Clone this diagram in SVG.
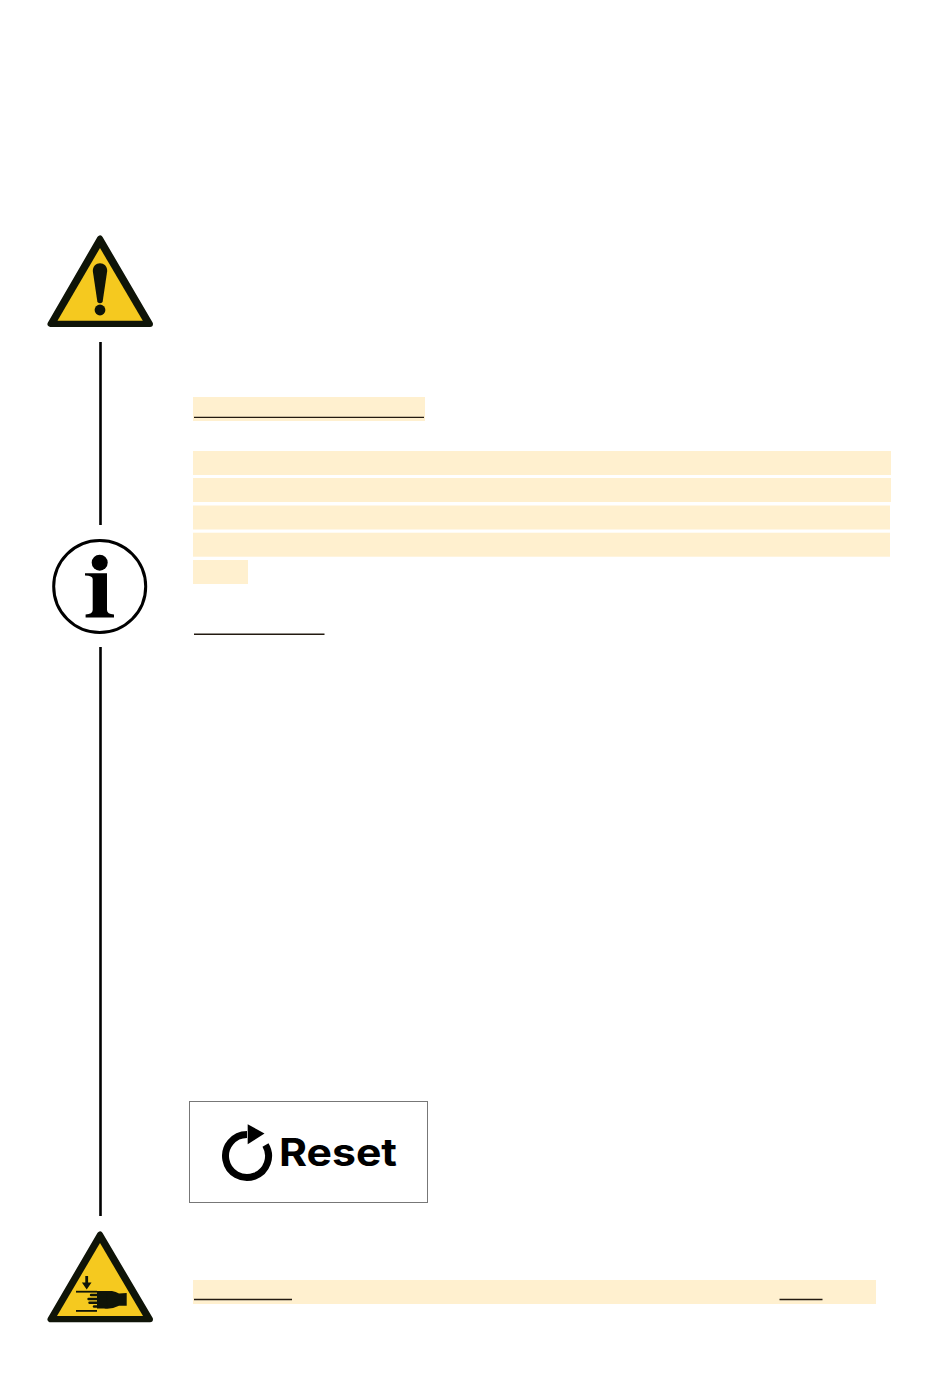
<svg xmlns="http://www.w3.org/2000/svg" width="950" height="1395" viewBox="0 0 950 1395">
<style>
.hl{fill:#fff0cf}
.ul{stroke:#231a10;stroke-width:1.4;fill:none}
.rail{stroke:#000;stroke-width:2.6;fill:none}
.tri{fill:#0f1408;stroke:#0f1408;stroke-width:6;stroke-linejoin:round}
.yel{fill:#f5c91f}
.ink{fill:#0f1408}
.fin{stroke:#0f1408;stroke-width:2.4;stroke-linecap:round;fill:none}
</style>
<rect width="950" height="1395" fill="#fff"/>
<g id="connectors">
<line class="rail" x1="100.5" y1="342" x2="100.5" y2="525"/>
<line class="rail" x1="100.5" y1="647" x2="100.5" y2="1216"/>
</g>
<g id="warning-sign">
<polygon class="tri" points="100,238.5 50.5,324 150,324"/>
<polygon class="yel" points="100,248 57.5,320.8 142.8,320.8"/>
<path class="ink" d="M92.8,271 C92.8,266 96,263.2 100,263.2 C104,263.2 107.2,266 107.2,271 L102.6,302 Q100,304.5 97.4,302 Z"/>
<circle class="ink" cx="100" cy="310" r="5.4"/>
</g>
<g id="info-sign">
<circle cx="99.7" cy="586.5" r="46" fill="#fff" stroke="#000" stroke-width="3"/>
<circle cx="99.7" cy="562.7" r="8" fill="#000"/>
<path fill="#000" d="M85,573.2 H107 V610 Q107,614 114,614.6 V617.5 H85.6 V614.6 Q92.7,614 92.7,610 V579 Q92.7,575.8 85,575.6 Z"/>
</g>
<g id="highlights">
<rect class="hl" x="193" y="397" width="232" height="24"/>
<line class="ul" x1="194" y1="417.4" x2="424" y2="417.4"/>
<rect class="hl" x="193" y="451" width="698" height="24"/>
<rect class="hl" x="193" y="478" width="698" height="24"/>
<rect class="hl" x="193" y="505.5" width="697" height="24"/>
<rect class="hl" x="193" y="532.7" width="697" height="24"/>
<rect class="hl" x="193" y="560" width="55" height="24"/>
<line class="ul" x1="194" y1="634.2" x2="324.5" y2="634.2"/>
<rect class="hl" x="193" y="1280" width="683" height="24"/>
<line class="ul" x1="194" y1="1299.5" x2="292" y2="1299.5"/>
<line class="ul" x1="779.5" y1="1299.5" x2="822.5" y2="1299.5"/>
</g>
<g id="reset-button">
<rect x="189.5" y="1101.5" width="238" height="101" fill="#fff" stroke="#777" stroke-width="1"/>
<path d="M265.5,1145 A21.5,21.5 0 1 1 247,1134.5" fill="none" stroke="#000" stroke-width="7"/>
<polygon points="247.7,1124.3 264.5,1133.5 247.7,1144.3" fill="#000"/>
<text x="279" y="1165.7" font-family="Inter, 'Liberation Sans', sans-serif" font-weight="700" font-size="38" textLength="118" lengthAdjust="spacingAndGlyphs" fill="#000">Reset</text>
</g>
<g id="crush-sign">
<polygon class="tri" points="100,1234.5 50.5,1319.3 150,1319.3"/>
<polygon class="yel" points="100,1243 57,1316 143,1316"/>
<path class="ink" d="M85.3,1276 H88.1 V1282.5 H91.5 L86.7,1289.5 L81.9,1282.5 H85.3 Z"/>
<rect class="ink" x="76" y="1290.8" width="21" height="1.8"/>
<rect class="ink" x="76" y="1310" width="21" height="1.8"/>
<path class="ink" d="M97,1291 H112 Q116,1291.8 119,1293.4 L126.7,1293 V1305.8 L119,1305.8 Q112,1309.5 104,1308.5 H97 Z"/>
<line class="fin" x1="91" y1="1295" x2="106" y2="1295"/>
<line class="fin" x1="88.5" y1="1299" x2="106" y2="1299"/>
<line class="fin" x1="89.5" y1="1302.7" x2="106" y2="1302.7"/>
<line class="fin" x1="94" y1="1306.5" x2="106" y2="1306.5"/>
</g>
</svg>
